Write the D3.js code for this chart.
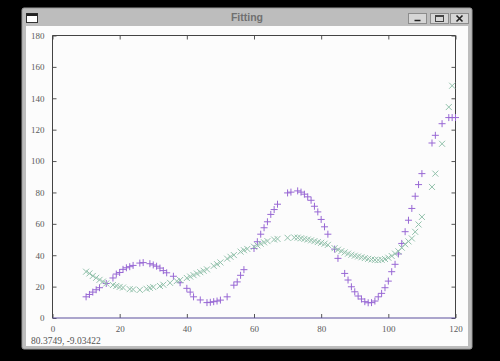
<!DOCTYPE html>
<html>
<head>
<meta charset="utf-8">
<script src="https://cdn.jsdelivr.net/npm/d3@7"></script>
<style>
  html, body { margin: 0; padding: 0; background: #000; }
  svg { display: block; }
</style>
</head>
<body>
<svg id="vis" width="500" height="361"></svg>
<script>
// data
const dataX = [10,11,12,13,14,16,18,19,20,21,22,23,24,26,27,29,30,31,32,33,34,36,38,40,41,42,44,46,47,48,49,50,52,54,55,56,57,60,61,62,63,64,65,66,67,70,71,73,74,75,76,77,78,79,80,81,82,84,85,87,88,89,90,91,92,93,94,95,96,97,98,99,100,101,102,103,104,105,106,107,108,109,110,113,114,116,118,119,120];
const dataY = [13.5,15,16.5,18,19.3,22,25.5,28,29,31,32,32.7,33.5,35,35.3,34.6,33.8,33,31.8,30.2,28.8,26.6,22.5,18.9,16.5,13.5,11.5,9.8,10,10.4,10.8,11.4,13.5,20.9,23,27.2,30.8,44.3,48.6,53.4,57.5,61.3,66,69.1,72.5,79.7,80.2,81,80.2,78.9,77.2,75,71.2,67.6,62.8,58.1,53.4,43.9,38,28.4,24.2,19.9,16.7,14,12.1,10.4,9.7,9.8,10.8,13.5,15.7,19.3,23.5,29.5,34.2,40.8,47.5,55,62.3,69.8,77.6,85,92,111.5,116.4,123.8,127.7,127.7,127.7];

const fitX = [10,11,12,13,14,15,16,18,19,20,21,23,24,26,28,29,30,32,33,35,37,38,40,41,42,43,44,45,46,48,49,50,52,53,54,56,57,58,60,61,62,63,64,66,67,70,72,73,74,75,76,77,78,79,80,81,82,84,85,86,87,88,89,90,91,92,93,94,95,96,97,98,99,100,101,102,103,104,105,106,107,108,109,110,113,114,116,118,119];
const fitY = [29.5,28.4,26.8,25.6,24.3,23.2,22,21,20.4,19.8,19.4,18.4,18.2,17.9,18.6,19.2,19.7,20.4,21.2,22.4,23.5,24.2,25.5,26.4,27.3,28.3,29.2,30.1,31,33.2,34.3,35.4,37.8,39,40.1,42.3,43.2,44,45.4,46.3,47.3,48.2,49,50,50.4,51.1,51.3,51.2,50.8,50.4,50,49.5,49,48.4,47.9,47.3,46.6,44.5,43.5,42.6,41.8,41,40.3,39.7,39.2,38.7,38.2,37.7,37.3,37,36.9,37.1,37.6,38.4,39.5,41,42.5,44.8,47,48.8,50.7,54.9,59.6,64.4,83.5,92,111,134.4,148];

const xTicks = [0,20,40,60,80,100,120];
const yTicks = [0,20,40,60,80,100,120,140,160,180];

const title = "Fitting";
const status = "80.3749, -9.03422";

const svg = d3.select('#vis');

// window chrome
svg.append('rect').attr('x', 0).attr('y', 0).attr('width', 500).attr('height', 361).attr('fill', '#000');
svg.append('rect').attr('x', 22).attr('y', 8).attr('width', 450).attr('height', 341)
  .attr('rx', 2).attr('fill', '#bdbdbd').attr('stroke', '#9a9a9a');
svg.append('rect').attr('x', 26).attr('y', 26).attr('width', 442).attr('height', 320).attr('fill', '#fcfcfc');

// title bar icon
svg.append('rect').attr('x', 26.5).attr('y', 13.5).attr('width', 11).attr('height', 9).attr('fill', '#fff').attr('stroke', '#333');
svg.append('rect').attr('x', 26.5).attr('y', 13.5).attr('width', 11).attr('height', 2.5).attr('fill', '#222');

svg.append('text').attr('x', 247).attr('y', 21)
  .attr('text-anchor', 'middle')
  .style('font-family', '"Liberation Sans", sans-serif').style('font-weight', 'bold').style('font-size', '10.5px')
  .style('fill', '#707070').text(title);

// buttons
const btnX = [408, 430, 450];
btnX.forEach(function(bx, i) {
  svg.append('rect').attr('x', bx + 0.5).attr('y', 13.5).attr('width', 18).attr('height', 10)
    .attr('fill', '#d6d6d6').attr('stroke', '#8c8c8c');
  const cx = bx + 9.5;
  if (i === 0) {
    svg.append('line').attr('x1', cx - 3).attr('x2', cx + 3).attr('y1', 20.5).attr('y2', 20.5).attr('stroke', '#222').attr('stroke-width', 1.5);
  } else if (i === 1) {
    svg.append('rect').attr('x', cx - 4).attr('y', 15.5).attr('width', 8).attr('height', 6).attr('fill', 'none').attr('stroke', '#444');
    svg.append('line').attr('x1', cx - 4).attr('x2', cx + 4).attr('y1', 16.5).attr('y2', 16.5).attr('stroke', '#444');
  } else {
    svg.append('path').attr('d', `M${cx-3},${15.5}L${cx+3},${21.5}M${cx+3},${15.5}L${cx-3},${21.5}`)
      .attr('stroke', '#222').attr('stroke-width', 1.6);
  }
});

// plot
const x = d3.scaleLinear().domain([0, 120]).range([52.5, 455.5]);
const y = d3.scaleLinear().domain([0, 180]).range([318, 35.5]);

const g = svg.append('g');

function styleAxis(sel) {
  sel.select('.domain').remove();
  sel.selectAll('.tick line').attr('stroke', '#555');
}

g.append('g').attr('transform', 'translate(0,318)')
  .call(d3.axisBottom(x).tickValues(xTicks).tickSizeInner(-4).tickSizeOuter(0).tickPadding(8))
  .call(styleAxis);
g.append('g').attr('transform', 'translate(0,35.5)')
  .call(d3.axisTop(x).tickValues(xTicks).tickSizeInner(-4).tickSizeOuter(0).tickFormat(''))
  .call(styleAxis);
g.append('g').attr('transform', 'translate(52.5,0)')
  .call(d3.axisLeft(y).tickValues(yTicks).tickSizeInner(-4).tickSizeOuter(0).tickPadding(8))
  .call(styleAxis);
g.append('g').attr('transform', 'translate(455.5,0)')
  .call(d3.axisRight(y).tickValues(yTicks).tickSizeInner(-4).tickSizeOuter(0).tickFormat(''))
  .call(styleAxis);

g.selectAll('.tick text').attr('fill', '#5a5a5a')
  .style('font-family', '"Liberation Serif", serif').style('font-size', '9px');

// border
g.append('path')
  .attr('d', `M${x(0)},${y(0)}V${y(180)}H${x(120)}V${y(0)}`)
  .attr('fill', 'none').attr('stroke', '#444');
g.append('line').attr('x1', x(0)).attr('x2', x(120)).attr('y1', y(0)).attr('y2', y(0))
  .attr('stroke', '#5a4f9c');

// data points (+)
const ptsData = dataX.map((d, i) => [d, dataY[i]]);
g.append('g').selectAll('path').data(ptsData).join('path')
  .attr('d', d => { const px = x(d[0]), py = y(d[1]); return `M${px-3.5},${py}H${px+3.5}M${px},${py-3.5}V${py+3.5}`; })
  .attr('stroke', '#9868d4').attr('stroke-width', 1).attr('fill', 'none');

// fit points (x)
const ptsFit = fitX.map((d, i) => [d, fitY[i]]);
g.append('g').selectAll('path').data(ptsFit).join('path')
  .attr('d', d => { const px = x(d[0]), py = y(d[1]); return `M${px-3},${py-3}L${px+3},${py+3}M${px+3},${py-3}L${px-3},${py+3}`; })
  .attr('stroke', '#93c2ac').attr('stroke-width', 1).attr('fill', 'none');

// status line
svg.append('text').attr('x', 31).attr('y', 344)
  .style('font-family', '"Liberation Serif", serif').style('font-size', '9.5px').style('fill', '#555')
  .text(status);
</script>
</body>
</html>
